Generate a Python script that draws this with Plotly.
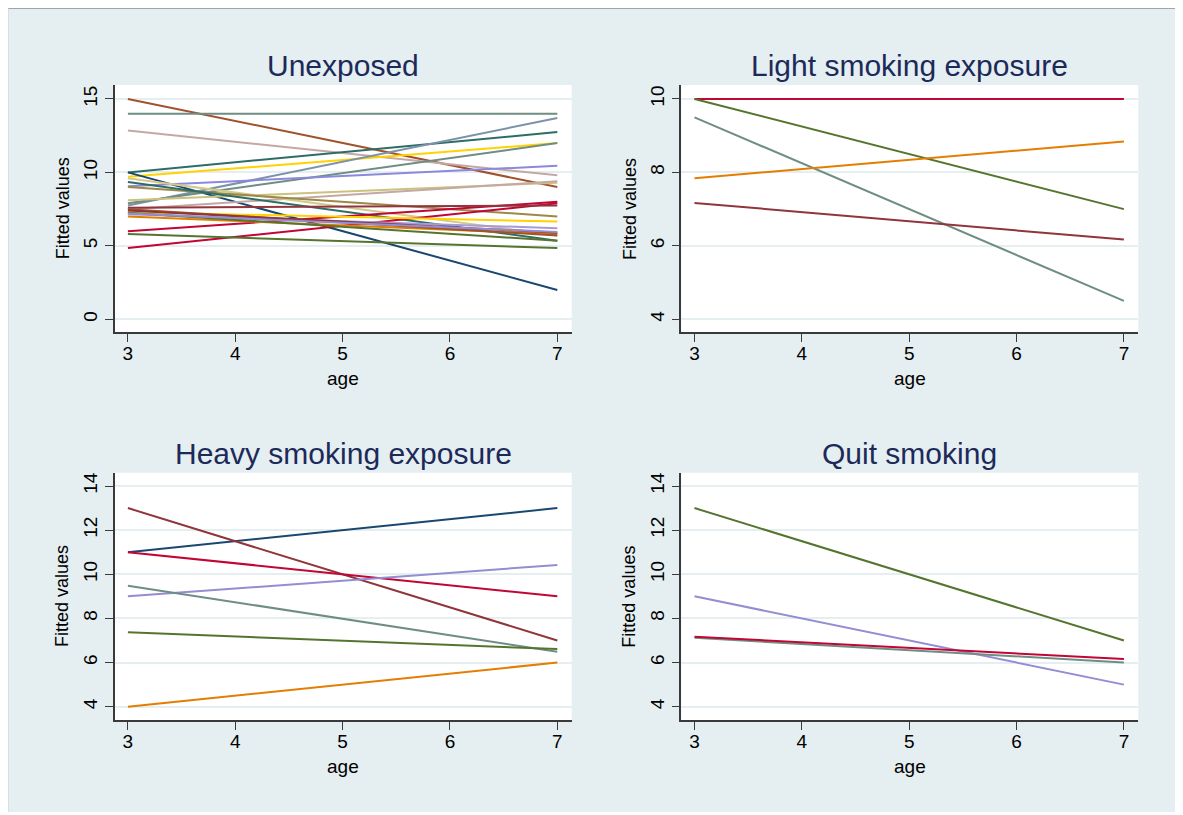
import plotly.graph_objects as go

# The page body adds an 8px white margin, which forms the white border
OFF = 8
W, H = 1170, 804

# ---------------- data ----------------
ages = [3, 7]

unexposed_start = [15.0, 14.0, 12.85, 10.0, 9.7, 10.0, 7.75, 7.9, 9.05, 8.1, 7.5, 9.6, 9.0, 9.35,
                   6.0, 4.85, 5.8, 7.6, 7.3, 7.15, 7.0, 7.25, 7.5, 7.4, 7.2]
unexposed_end = [9.0, 14.0, 9.8, 12.75, 12.0, 2.0, 13.7, 12.0, 10.45, 9.3, 9.4, 5.7, 7.0, 5.35,
                 8.0, 7.9, 4.85, 7.75, 6.65, 6.2, 5.8, 5.35, 5.7, 5.9, 5.95]
unexposed_colors = ["#a0522d", "#6e8e84", "#c4a8a4", "#2d6d66", "#ffd200", "#1a476f", "#7b92a8",
                    "#6e8e84", "#8c88dc", "#cac27e", "#c4a8a4", "#d4c88a", "#9c8847", "#2d6d66",
                    "#c10534", "#c10534", "#55752f", "#90353b", "#ffd200", "#a89ad8", "#e37e00",
                    "#55752f", "#a0522d", "#90353b", "#938dd2"]

light_start = [10.0, 10.0, 9.5, 7.84, 7.17]
light_end = [10.0, 7.0, 4.5, 8.84, 6.17]
light_colors = ["#c10534", "#55752f", "#6e8e84", "#e37e00", "#90353b"]

heavy_start = [11.0, 13.0, 11.0, 9.0, 9.48, 7.37, 4.0]
heavy_end = [13.0, 7.0, 9.0, 10.42, 6.49, 6.61, 6.0]
heavy_colors = ["#1a476f", "#90353b", "#c10534", "#938dd2", "#6e8e84", "#55752f", "#e37e00"]

quit_start = [13.0, 9.0, 7.12, 7.17]
quit_end = [7.0, 5.0, 6.0, 6.16]
quit_colors = ["#55752f", "#938dd2", "#6e8e84", "#c10534"]

titles = ["Unexposed", "Light smoking exposure", "Heavy smoking exposure", "Quit smoking"]
y_ticks = [[0, 5, 10, 15], [4, 6, 8, 10], [4, 6, 8, 10, 12, 14], [4, 6, 8, 10, 12, 14]]
y_ranges = [[-0.885, 15.95], [3.646, 10.38], [3.397, 14.603], [3.397, 14.603]]
x_ticks = [3, 4, 5, 6, 7]
x_range = [2.877, 7.134]

panels = [(unexposed_start, unexposed_end, unexposed_colors),
          (light_start, light_end, light_colors),
          (heavy_start, heavy_end, heavy_colors),
          (quit_start, quit_end, quit_colors)]

# ---------------- layout geometry (window pixels) ----------------
px_x = [(114.7, 571.7), (681.3, 1138.3), (114.7, 571.7), (681.3, 1138.3)]
px_y = [(85.0, 332.3), (85.0, 332.3), (472.7, 720.0), (472.7, 720.0)]

def fx(p):
    return (p - OFF) / W

def fy(p):
    return 1 - (p - OFF) / H

FONT = "Liberation Sans, Arial, Helvetica, sans-serif"
BG = "#e5eef0"
GRID = "#e5eef0"
AX = "#3a3a3a"

fig = go.Figure()
layout = dict(width=W, height=H, margin=dict(l=0, r=0, t=0, b=0),
              paper_bgcolor=BG, plot_bgcolor="white", showlegend=False,
              font=dict(family=FONT, color="black"))

annotations = []
shapes = [
    dict(type="line", xref="paper", yref="paper", x0=0, x1=1, y0=1, y1=1,
         line=dict(width=1.5, color="#8c8c8c"), layer="above"),
    dict(type="line", xref="paper", yref="paper", x0=0, x1=0, y0=0, y1=1,
         line=dict(width=1, color="#c6d2d6"), layer="above"),
]

for i, (starts, ends, cols) in enumerate(panels):
    n = i + 1
    xa = "x" if n == 1 else f"x{n}"
    ya = "y" if n == 1 else f"y{n}"
    for s, e, c in zip(starts, ends, cols):
        fig.add_trace(go.Scatter(x=ages, y=[s, e], mode="lines", xaxis=xa, yaxis=ya,
                                 line=dict(color=c, width=2), hoverinfo="skip"))
    x0, x1 = px_x[i]
    yt, yb = px_y[i]
    layout[f"xaxis{'' if n == 1 else n}"] = dict(
        domain=[fx(x0), fx(x1)], anchor=ya, range=x_range, tickvals=x_ticks,
        showgrid=False, zeroline=False, showline=True, linecolor=AX, linewidth=1.5,
        ticks="outside", ticklen=8, tickwidth=1.2, tickcolor=AX, ticklabelstandoff=-5,
        tickfont=dict(size=19, family=FONT, color="black"), fixedrange=True)
    layout[f"yaxis{'' if n == 1 else n}"] = dict(
        domain=[fy(yb), fy(yt)], anchor=xa, range=y_ranges[i], tickvals=y_ticks[i],
        showgrid=True, gridcolor=GRID, gridwidth=2, zeroline=False, showline=True,
        linecolor=AX, linewidth=1.5, ticks="outside", ticklen=8, tickwidth=1.2, tickcolor=AX,
        tickangle=-90, tickfont=dict(size=19, family=FONT, color="black"), fixedrange=True)
    cx = (x0 + x1) / 2
    annotations.append(dict(text=titles[i], xref="paper", yref="paper", x=fx(cx), y=fy(yt - 19),
                            showarrow=False, xanchor="center", yanchor="middle",
                            font=dict(size=30, family=FONT, color="#1c2a5a")))
    annotations.append(dict(text="age", xref="paper", yref="paper", x=fx(cx), y=fy(yb + 46),
                            showarrow=False, xanchor="center", yanchor="middle",
                            font=dict(size=19, family=FONT, color="black")))
    annotations.append(dict(text="Fitted values", xref="paper", yref="paper", x=fx(x0 - 52),
                            y=fy((yt + yb) / 2), showarrow=False, textangle=-90,
                            xanchor="center", yanchor="middle",
                            font=dict(size=18, family=FONT, color="black")))

layout["annotations"] = annotations
layout["shapes"] = shapes
fig.update_layout(**layout)
fig.write_html("out.html")
